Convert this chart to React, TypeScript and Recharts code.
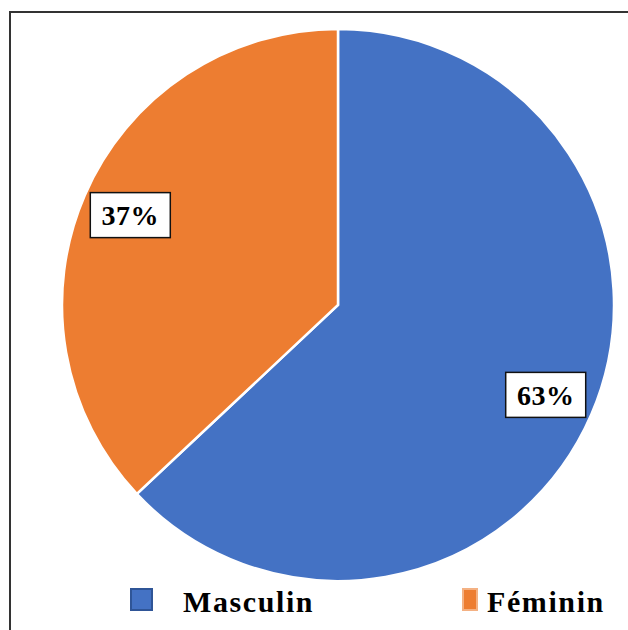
import React from "react";
import { PieChart, Pie, Cell, Legend } from "recharts";

const categories = ["Masculin", "Féminin"];
const values = [63, 37];
const colors = ["#4472C4", "#ED7D31"];
const borderColors = ["#2F5597", "#F4B183"];

const data = categories.map((name, i) => ({ name, value: values[i] }));

const RADIAN = Math.PI / 180;

const renderLabel = (props: any) => {
  const { cx, cy, midAngle, outerRadius, percent } = props;
  const r = outerRadius * 0.82;
  const x = cx + r * Math.cos(-midAngle * RADIAN);
  const y = cy + r * Math.sin(-midAngle * RADIAN);
  const w = 80;
  const h = 45;
  return (
    <g>
      <rect x={x - w / 2} y={y - h / 2} width={w} height={h} fill="#fff" stroke="#111" strokeWidth={1.5} />
      <text
        x={x}
        y={y + 10}
        textAnchor="middle"
        fontFamily="'Liberation Serif', 'Times New Roman', serif"
        fontWeight="bold"
        fontSize={28}
        letterSpacing={0.5}
        fill="#000"
      >
        {`${Math.round(percent * 100)}%`}
      </text>
    </g>
  );
};

const legendPos = [
  { mx: 131, mw: 21, tx: 183 },
  { mx: 463, mw: 14, tx: 487 },
];

const renderLegend = (props: any) => {
  const payload = props.payload || [];
  return (
    <svg width={628} height={630} style={{ position: "absolute", left: 0, top: 0, pointerEvents: "none" }}>
      {payload.map((entry: any) => {
        const idx = categories.indexOf(entry.value);
        const p = legendPos[idx];
        return (
          <g key={entry.value}>
            <rect x={p.mx} y={589} width={p.mw} height={21} fill={colors[idx]} stroke={borderColors[idx]} strokeWidth={2} />
            <text
              x={p.tx}
              y={612}
              fontFamily="'Liberation Serif', 'Times New Roman', serif"
              fontWeight="bold"
              fontSize={30}
              letterSpacing={1.6}
              fill="#000"
            >
              {entry.value}
            </text>
          </g>
        );
      })}
    </svg>
  );
};

export default function App() {
  return (
    <div style={{ position: "absolute", left: 0, top: 0, width: 628, height: 630, background: "#fff", overflow: "hidden" }}>
      <div
        style={{
          position: "absolute",
          left: 9,
          top: 11,
          width: 800,
          height: 800,
          borderLeft: "2px solid #333",
          borderTop: "2px solid #333",
        }}
      />
      <div style={{ position: "absolute", left: 0, top: 0 }}>
        <PieChart width={628} height={630} margin={{ top: 0, right: 0, bottom: 0, left: 0 }}>
          <Pie
            data={data}
            dataKey="value"
            nameKey="name"
            cx={338}
            cy={305}
            outerRadius={276}
            startAngle={90}
            endAngle={-270}
            stroke="#fff"
            strokeWidth={2.5}
            label={renderLabel}
            labelLine={false}
            isAnimationActive={false}
          >
            {data.map((d, i) => (
              <Cell key={d.name} fill={colors[i]} />
            ))}
          </Pie>
          <Legend
            content={renderLegend}
            wrapperStyle={{ position: "absolute", left: 0, top: 0, width: 628, height: 630 }}
          />
        </PieChart>
      </div>
    </div>
  );
}
